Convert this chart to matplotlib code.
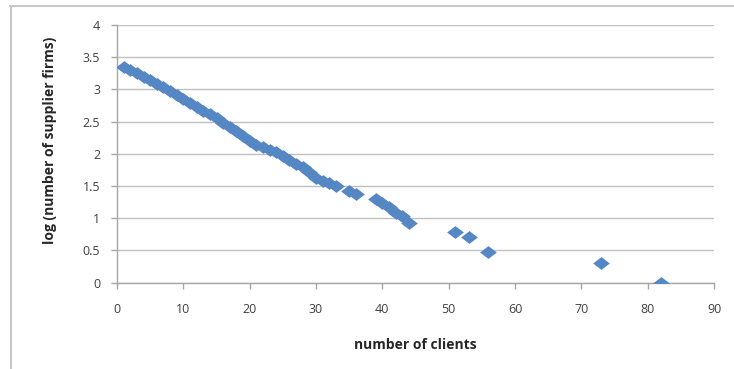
import matplotlib.pyplot as plt
from matplotlib.lines import Line2D

# number of clients per supplier and log10 of how many suppliers have that many
clients = [1, 2, 3, 4, 5, 6, 7, 8, 9, 10,
           11, 12, 13, 14, 15, 16, 17, 18, 19, 20,
           21, 22, 23, 24, 25, 26, 27, 28, 29, 30,
           31, 32, 33, 35, 36, 39, 40, 41, 42, 43,
           44, 51, 53, 56, 73, 82]
log_firms = [3.35, 3.30, 3.25, 3.19, 3.14, 3.08, 3.03, 2.97, 2.91, 2.85,
             2.79, 2.73, 2.67, 2.62, 2.56, 2.48, 2.42, 2.36, 2.28, 2.20,
             2.14, 2.10, 2.06, 2.02, 1.97, 1.90, 1.84, 1.80, 1.72, 1.62,
             1.57, 1.54, 1.50, 1.42, 1.38, 1.30, 1.24, 1.18, 1.08, 1.04,
             0.92, 0.78, 0.70, 0.48, 0.30, 0.00]

x_ticks = list(range(0, 91, 10))
y_ticks = [0, 0.5, 1, 1.5, 2, 2.5, 3, 3.5, 4]
y_tick_labels = ["0", "0.5", "1", "1.5", "2", "2.5", "3", "3.5", "4"]

W, H = 734, 369
DPI = 100
BLUE = "#5487C4"
GRID = "#c0c0c0"
TXT = "#404040"

plt.rcParams["font.family"] = ["Open Sans", "DejaVu Sans"]

fig = plt.figure(figsize=(W / DPI, H / DPI), dpi=DPI)
ax = fig.add_axes([117 / W, 1 - 282.5 / H, (714 - 117) / W, (282.5 - 25) / H])

# wide diamond, like the spreadsheet marker
diamond = [(-1.3, 0), (0, 1), (1.3, 0), (0, -1), (-1.3, 0)]
ax.plot(clients, log_firms, linestyle="none", marker=diamond, markersize=12,
        color=BLUE, markeredgewidth=0, zorder=3)

ax.set_xlim(0, 90)
ax.set_ylim(0, 4)
ax.set_xticks(x_ticks)
ax.set_yticks(y_ticks)
ax.set_yticklabels(y_tick_labels)

ax.grid(axis="y", color=GRID, linewidth=1.0)
ax.set_axisbelow(True)
for side in ["top", "right"]:
    ax.spines[side].set_visible(False)
for side in ["left", "bottom"]:
    ax.spines[side].set_color("#a6a6a6")
    ax.spines[side].set_linewidth(1.0)

ax.tick_params(axis="both", colors="#a6a6a6", labelcolor=TXT, labelsize=9,
               length=4, width=1.0, direction="out")
ax.tick_params(axis="y", pad=8)
ax.tick_params(axis="x", pad=11)

fig.text(415 / W, 1 - 345 / H, "number of clients", ha="center", va="center",
         fontsize=10, fontweight="bold", color="#262626")
fig.text(50 / W, 1 - 140 / H, "log (number of supplier firms)", ha="center",
         va="center", rotation=90, fontsize=10, fontweight="bold",
         color="#262626")

# chart frame, runs off the right and bottom edges
fig.add_artist(Line2D([10.5 / W, 10.5 / W], [0, 1 - 6 / H], color="#c8c8c8",
                      linewidth=1.5, transform=fig.transFigure))
fig.add_artist(Line2D([10 / W, 1], [1 - 6 / H, 1 - 6 / H], color="#c8c8c8",
                      linewidth=1.5, transform=fig.transFigure))

fig.savefig("out.png", dpi=DPI)
